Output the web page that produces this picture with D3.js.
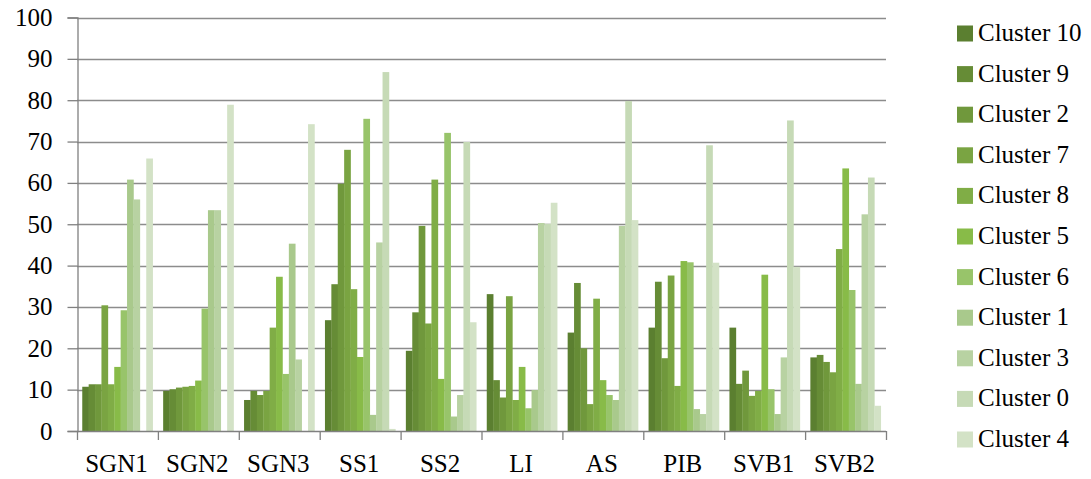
<!DOCTYPE html>
<html>
<head>
<meta charset="utf-8">
<script src="https://cdn.jsdelivr.net/npm/d3@7"></script>
<style>
  html, body { margin: 0; padding: 0; background: #fff; }
  svg { display: block; }
</style>
</head>
<body>
<svg id="chart" width="1091" height="479"></svg>
<script>
// Categories along the x axis
const categories = ["SGN1", "SGN2", "SGN3", "SS1", "SS2", "LI", "AS", "PIB", "SVB1", "SVB2"];

// Series, in drawing / legend order
const seriesNames = ["Cluster 10", "Cluster 9", "Cluster 2", "Cluster 7", "Cluster 8",
                     "Cluster 5", "Cluster 6", "Cluster 1", "Cluster 3", "Cluster 0", "Cluster 4"];

// Values per series, one per category
const cluster10 = [10.7, 9.7, 7.5, 26.8, 19.4, 33.1, 23.8, 25.0, 25.0, 17.8];
const cluster9  = [11.3, 10.1, 9.7, 35.5, 28.7, 12.3, 35.8, 36.1, 11.4, 18.4];
const cluster2  = [11.3, 10.5, 8.7, 59.8, 49.6, 8.1, 20.0, 17.6, 14.6, 16.7];
const cluster7  = [30.4, 10.7, 9.7, 68.0, 26.0, 32.6, 6.5, 37.6, 8.5, 14.2];
const cluster8  = [11.3, 10.9, 25.0, 34.3, 60.8, 7.5, 32.0, 10.9, 9.7, 44.0];
const cluster5  = [15.5, 12.2, 37.3, 17.9, 12.6, 15.5, 12.3, 41.1, 37.8, 63.5];
const cluster6  = [29.2, 29.6, 13.8, 75.5, 72.1, 5.5, 8.7, 40.8, 10.1, 34.1];
const cluster1  = [60.8, 53.4, 45.3, 3.9, 3.5, 9.9, 7.5, 5.3, 4.1, 11.4];
const cluster3  = [56.0, 53.4, 17.3, 45.6, 8.7, 50.3, 49.6, 4.1, 17.8, 52.4];
const cluster0  = [0, 0, 0, 86.8, 69.9, 50.1, 79.8, 69.1, 75.1, 61.3];
const cluster4  = [65.9, 78.9, 74.2, 0.5, 26.3, 55.2, 51.0, 40.7, 39.7, 6.1];

const seriesValues = [cluster10, cluster9, cluster2, cluster7, cluster8,
                      cluster5, cluster6, cluster1, cluster3, cluster0, cluster4];

const yTicks = [0, 10, 20, 30, 40, 50, 60, 70, 80, 90, 100];

// Green ramp from dark to light
const colors = ["#5b7f30", "#668c36", "#70983c", "#7aa442", "#80ad46",
                "#88bb48", "#98c46a", "#a9c98c", "#b8d2a2", "#c6dab6", "#d3e2c6"];

const FONT = "'Liberation Serif', 'Times New Roman', Times, 'DejaVu Serif', serif";

const svg = d3.select("#chart");
const plotLeft = 77, plotRight = 886, plotTop = 17.5, plotBottom = 431;

const x = d3.scaleBand().domain(categories).range([plotLeft, plotRight])
  .paddingInner(0.13).paddingOuter(0.065);
const xs = d3.scaleBand().domain(seriesNames).range([0, x.bandwidth()]).padding(0);
const y = d3.scaleLinear().domain([0, 100]).range([plotBottom, plotTop]);

// Horizontal gridlines
svg.append("g").selectAll("line").data(yTicks.filter(d => d > 0)).join("line")
  .attr("x1", plotLeft).attr("x2", plotRight)
  .attr("y1", d => Math.round(y(d)) + 0.5).attr("y2", d => Math.round(y(d)) + 0.5)
  .attr("stroke", "#8c8c8c").attr("stroke-width", 1.3);

// Bars
const rows = seriesNames.map((name, i) => ({ name, color: colors[i], values: seriesValues[i] }));
const groups = svg.append("g").selectAll("g").data(rows).join("g")
  .attr("fill", d => d.color);
groups.selectAll("rect")
  .data(d => d.values.map((v, j) => ({ name: d.name, cat: categories[j], v })))
  .join("rect")
  .attr("x", d => x(d.cat) + xs(d.name))
  .attr("width", xs.bandwidth() + 0.3)
  .attr("y", d => y(d.v))
  .attr("height", d => y(0) - y(d.v));

// Y axis
const yAxis = d3.axisLeft(y).tickValues(yTicks).tickSize(10).tickPadding(15);
const gy = svg.append("g").attr("transform", `translate(${plotLeft + 0.5},0)`).call(yAxis)
  .attr("font-family", null).attr("font-size", null);
gy.select(".domain").attr("stroke", "#808080").attr("stroke-width", 1.3);
gy.selectAll(".tick line").attr("stroke", "#808080").attr("stroke-width", 1.3);
gy.selectAll(".tick text")
  .style("font-family", FONT).style("font-size", "25px").attr("fill", "#000");

// X axis: ticks at category boundaries
const boundaries = d3.range(categories.length + 1).map(i => plotLeft + i * x.step());
const gx = svg.append("g");
gx.append("line").attr("x1", plotLeft).attr("x2", plotRight)
  .attr("y1", plotBottom + 0.5).attr("y2", plotBottom + 0.5)
  .attr("stroke", "#808080").attr("stroke-width", 1.3);
gx.selectAll("line.tk").data(boundaries).join("line").attr("class", "tk")
  .attr("x1", d => d + 0.5).attr("x2", d => d + 0.5)
  .attr("y1", plotBottom).attr("y2", plotBottom + 9)
  .attr("stroke", "#808080").attr("stroke-width", 1.3);
gx.selectAll("text").data(categories).join("text")
  .attr("x", d => x(d) + x.bandwidth() / 2 - 1)
  .attr("y", 471.5)
  .attr("text-anchor", "middle")
  .style("font-family", FONT).style("font-size", "25px")
  .attr("fill", "#000")
  .text(d => d);

// Legend
const legend = svg.append("g").selectAll("g").data(rows).join("g")
  .attr("transform", (d, i) => `translate(957,${33.5 + i * 40.6})`);
legend.append("rect").attr("x", 0).attr("y", -8).attr("width", 16).attr("height", 16)
  .attr("fill", d => d.color);
legend.append("text").attr("x", 21).attr("y", 7.5)
  .style("font-family", FONT).style("font-size", "25px").attr("fill", "#000")
  .text(d => d.name);
</script>
</body>
</html>
